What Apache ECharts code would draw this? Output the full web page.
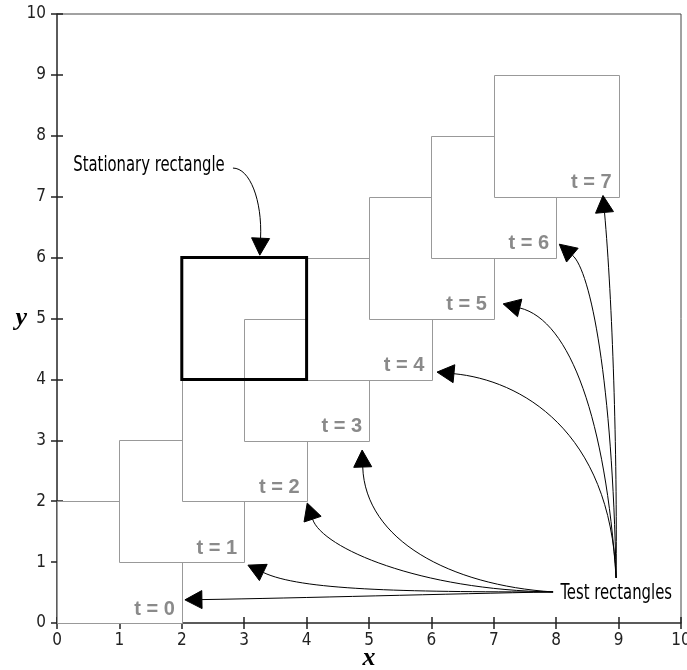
<!DOCTYPE html>
<html>
<head>
<meta charset="utf-8">
<script src="https://cdn.jsdelivr.net/npm/echarts@6/dist/echarts.min.js"></script>
<style>
  html, body { margin: 0; padding: 0; background: #fff; }
  #chart { width: 687px; height: 670px; }
</style>
</head>
<body>
<div id="chart"></div>
<script>
// test rectangle at each time step t: corners (x0,y0)-(x1,y1)
const tValues = [0, 1, 2, 3, 4, 5, 6, 7]
const rectX0 = [0, 1, 2, 3, 4, 5, 6, 7]
const rectY0 = [0, 1, 2, 3, 4, 5, 6, 7]
const rectX1 = [2, 3, 4, 5, 6, 7, 8, 9]
const rectY1 = [2, 3, 4, 5, 6, 7, 8, 9]
// stationary rectangle [x0, y0, x1, y1]
const stationary = [2, 4, 4, 6]

const axisTicks = [0, 1, 2, 3, 4, 5, 6, 7, 8, 9, 10]

// annotation texts (left edge, middle)
const noteText = ['Stationary rectangle', 'Test rectangles']
const noteX = [0.26, 8.07]
const noteY = [7.52, 0.49]

// curved arrows, data units: start, control 1, control 2, tip
const arrowStart = [[7.95, 0.51], [7.95, 0.51], [7.95, 0.51], [7.95, 0.51], [8.96, 0.74], [8.96, 0.74], [8.96, 0.74], [8.96, 0.74], [2.82, 7.47]]
const arrowC1 = [[6.30, 0.48], [5.50, 0.51], [5.82, 0.54], [6.30, 0.62], [8.87, 3.17], [8.79, 3.33], [8.90, 3.99], [8.98, 2.84], [3.09, 7.47]]
const arrowC2 = [[3.90, 0.41], [3.90, 0.54], [4.25, 1.23], [4.94, 1.36], [7.42, 3.99], [8.23, 4.97], [8.55, 5.79], [8.90, 5.30], [3.29, 6.94]]
const arrowTip = [[2.05, 0.38], [3.06, 0.95], [4.01, 1.97], [4.89, 2.84], [6.09, 4.12], [7.15, 5.24], [8.05, 6.22], [8.75, 7.02], [3.25, 6.04]]

const tickFont = '"DejaVu Sans Condensed", "Liberation Sans Narrow", sans-serif'

const rectData = tValues.map((t, i) => [rectX0[i], rectY0[i], rectX1[i], rectY1[i], t])
const arrowData = arrowTip.map((tip, i) => [
  arrowStart[i][0], arrowStart[i][1], arrowC1[i][0], arrowC1[i][1],
  arrowC2[i][0], arrowC2[i][1], tip[0], tip[1]
])
const noteData = noteText.map((s, i) => [noteX[i], noteY[i]])

const chart = echarts.init(document.getElementById('chart'))

const renderRect = function (params, api) {
  const p0 = api.coord([api.value(0), api.value(1)])
  const p1 = api.coord([api.value(2), api.value(3)])
  const x = Math.round(p0[0]) + 0.5, y = Math.round(p1[1]) + 0.5
  return {
    type: 'group',
    children: [{
      type: 'rect',
      shape: {x: x, y: y, width: Math.round(p1[0] - p0[0]), height: Math.round(p0[1] - p1[1])},
      style: {fill: '#fff', stroke: '#999', lineWidth: 1}
    }, {
      type: 'text',
      x: p1[0] - 7,
      y: p0[1] - 4,
      style: {
        text: 't = ' + api.value(4),
        fill: '#8a8a8a',
        font: 'bold 20px "Liberation Sans", Arial, sans-serif',
        align: 'right',
        verticalAlign: 'bottom'
      }
    }]
  }
}

const renderStationary = function (params, api) {
  const p0 = api.coord([api.value(0), api.value(1)])
  const p1 = api.coord([api.value(2), api.value(3)])
  return {
    type: 'rect',
    shape: {x: p0[0], y: p1[1], width: p1[0] - p0[0], height: p0[1] - p1[1]},
    style: {fill: null, stroke: '#000', lineWidth: 3}
  }
}

const renderArrow = function (params, api) {
  const s = api.coord([api.value(0), api.value(1)])
  const c1 = api.coord([api.value(2), api.value(3)])
  const c2 = api.coord([api.value(4), api.value(5)])
  const tip = api.coord([api.value(6), api.value(7)])
  // arrow head along the end tangent
  let dx = tip[0] - c2[0], dy = tip[1] - c2[1]
  const len = Math.sqrt(dx * dx + dy * dy)
  dx /= len; dy /= len
  const L = 17, W = 9
  const bx = tip[0] - dx * L, by = tip[1] - dy * L
  return {
    type: 'group',
    children: [{
      type: 'bezierCurve',
      shape: {x1: s[0], y1: s[1], cpx1: c1[0], cpy1: c1[1], cpx2: c2[0], cpy2: c2[1], x2: bx, y2: by},
      style: {stroke: '#000', lineWidth: 1, fill: null}
    }, {
      type: 'polygon',
      shape: {points: [tip, [bx - dy * W, by + dx * W], [bx + dy * W, by - dx * W]]},
      style: {fill: '#000', stroke: '#000', lineWidth: 1}
    }]
  }
}

// narrow lettering, squeezed horizontally
const renderNote = function (params, api) {
  const p = api.coord([api.value(0), api.value(1)])
  return {
    type: 'text',
    x: p[0],
    y: p[1],
    scaleX: 0.75,
    style: {
      text: noteText[params.dataIndex],
      fill: '#000',
      font: '22px ' + tickFont,
      align: 'left',
      verticalAlign: 'middle'
    }
  }
}

const axisCommon = {
  type: 'value',
  min: 0,
  max: 10,
  interval: 1,
  splitLine: {show: false}
}

const option = {
  animation: false,
  backgroundColor: '#fff',
  grid: {
    left: 57, right: 6, top: 14, bottom: 47,
    outerBoundsMode: 'none',
    containLabel: false,
    show: true, borderColor: '#444', borderWidth: 1, backgroundColor: 'transparent'
  },
  xAxis: [{
    ...axisCommon,
    position: 'bottom',
    name: 'x',
    nameLocation: 'middle',
    nameMoveOverlap: false,
    nameGap: 22,
    nameTextStyle: {
      fontFamily: '"Liberation Serif", "DejaVu Serif", serif',
      fontStyle: 'italic', fontWeight: 'bold', fontSize: 26, color: '#000'
    },
    axisLine: {show: true, lineStyle: {color: '#444', width: 1.5}},
    axisTick: {show: true, inside: false, length: 6, lineStyle: {color: '#222', width: 1.5}},
    axisLabel: {
      show: true, margin: 9, color: '#222', fontSize: 17, fontFamily: tickFont,
      showMinLabel: true, showMaxLabel: true,
      formatter: v => axisTicks.includes(v) ? String(v) : ''
    }
  }, {
    ...axisCommon,
    position: 'bottom',
    axisLine: {show: false},
    axisTick: {show: true, inside: true, length: 6, lineStyle: {color: '#222', width: 1.5}},
    axisLabel: {show: false}
  }],
  yAxis: [{
    ...axisCommon,
    position: 'left',
    name: 'y',
    nameLocation: 'middle',
    nameMoveOverlap: false,
    nameRotate: 0,
    nameGap: 30,
    nameTextStyle: {
      fontFamily: '"Liberation Serif", "DejaVu Serif", serif',
      fontStyle: 'italic', fontWeight: 'bold', fontSize: 26, color: '#000'
    },
    axisLine: {show: true, lineStyle: {color: '#444', width: 1.5}},
    axisTick: {show: true, inside: false, length: 6, lineStyle: {color: '#222', width: 1.5}},
    axisLabel: {
      show: true, margin: 11, color: '#222', fontSize: 17, fontFamily: tickFont,
      showMinLabel: true, showMaxLabel: true,
      formatter: v => axisTicks.includes(v) ? String(v) : ''
    }
  }, {
    ...axisCommon,
    position: 'left',
    axisLine: {show: false},
    axisTick: {show: true, inside: true, length: 6, lineStyle: {color: '#222', width: 1.5}},
    axisLabel: {show: false}
  }],
  series: [{
    type: 'custom',
    name: 'test rectangles',
    renderItem: renderRect,
    data: rectData,
    z: 2
  }, {
    type: 'custom',
    name: 'stationary rectangle',
    renderItem: renderStationary,
    data: [stationary],
    z: 3
  }, {
    type: 'custom',
    name: 'arrows',
    renderItem: renderArrow,
    data: arrowData,
    z: 4
  }, {
    type: 'custom',
    name: 'notes',
    renderItem: renderNote,
    data: noteData,
    z: 5
  }]
}

chart.setOption(option)
window.onresize = function () {
  chart.resize()
}
</script>
</body>
</html>
